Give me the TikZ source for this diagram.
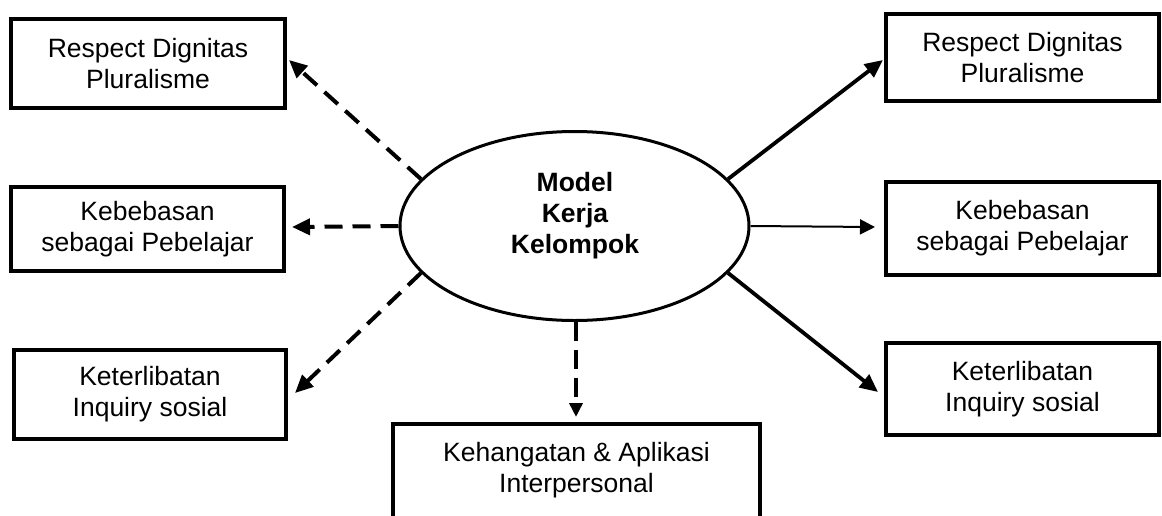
\documentclass[tikz,border=0pt]{standalone}
\usepackage{fontspec}
\setmainfont{Liberation Sans}
\usetikzlibrary{shapes.geometric,arrows.meta}

\tikzset{
  txt/.style={font=\fontsize{26.5}{31}\selectfont, align=center},
  box/.style={txt, draw, line width=4pt, inner sep=0pt},
  hub/.style={ellipse, draw, line width=3pt, minimum width=349pt, minimum height=189pt, inner sep=0pt},
  dasharrow/.style={line width=4pt, dash pattern=on 18pt off 10pt, -{Triangle[length=18pt,width=16pt]}},
  solidarrow/.style={line width=3.8pt, -{Triangle[length=18pt,width=16pt]}},
  thinarrow/.style={line width=2pt, -{Triangle[length=15pt,width=15pt]}}
}

\begin{document}
\begin{tikzpicture}[x=1pt,y=1pt]
  \clip (0,0) rectangle (1162,-515);
  \fill[white] (0,0) rectangle (1162,-515);

  % central ellipse and its title
  \node[hub] (ell) at (574.5,-226) {};
  \node[txt, font=\fontsize{26.5}{31}\selectfont\bfseries] (elltitle) at (575,-215.6) {Model\\Kerja\\Kelompok};

  % left column
  \node[box, minimum width=274pt, minimum height=89pt] (L1) at (148,-63.5) {Respect Dignitas\\Pluralisme};
  \node[box, minimum width=273pt, minimum height=84pt] (L2) at (147.5,-229) {Kebebasan\\sebagai Pebelajar};
  \node[box, minimum width=272pt, minimum height=89pt] (L3) at (150,-394.5) {Keterlibatan\\Inquiry sosial};

  % right column
  \node[box, minimum width=273pt, minimum height=87pt] (R1) at (1022.5,-57.5) {Respect Dignitas\\Pluralisme};
  \node[box, minimum width=273pt, minimum height=93pt] (R2) at (1022.5,-228.5) {Kebebasan\\sebagai Pebelajar};
  \node[box, minimum width=273pt, minimum height=92pt] (R3) at (1022.5,-389) {Keterlibatan\\Inquiry sosial};

  % bottom box, running past the lower edge
  \node[box, anchor=north, minimum width=367pt, minimum height=130pt] (B) at (576.5,-422) {};
  \node[txt] (Btext) at (576.5,-470.5) {Kehangatan \& Aplikasi\\Interpersonal};

  % dashed connectors
  \draw[dasharrow] (ell.163) -- ([shift={(2,3.5)}]L1.east);
  \draw[dasharrow] (ell.west) -- ([shift={(6,2)}]L2.east);
  \draw[dasharrow] (ell.197) -- ([shift={(7,1.5)}]L3.east);
  \draw[line width=4pt, dash pattern=on 19pt off 9pt, -{Triangle[length=14pt,width=13pt]}]
    ([xshift=1.5pt]ell.south) -- ([shift={(-0.5,5)}]B.north);

  % solid connectors
  \draw[solidarrow] (ell.17) -- ([shift={(-1,-2.5)}]R1.west);
  \draw[thinarrow] (ell.east) -- ([shift={(-9,1.5)}]R2.west);
  \draw[solidarrow] (ell.-17) -- ([shift={(-6,-3)}]R3.west);
\end{tikzpicture}
\end{document}
